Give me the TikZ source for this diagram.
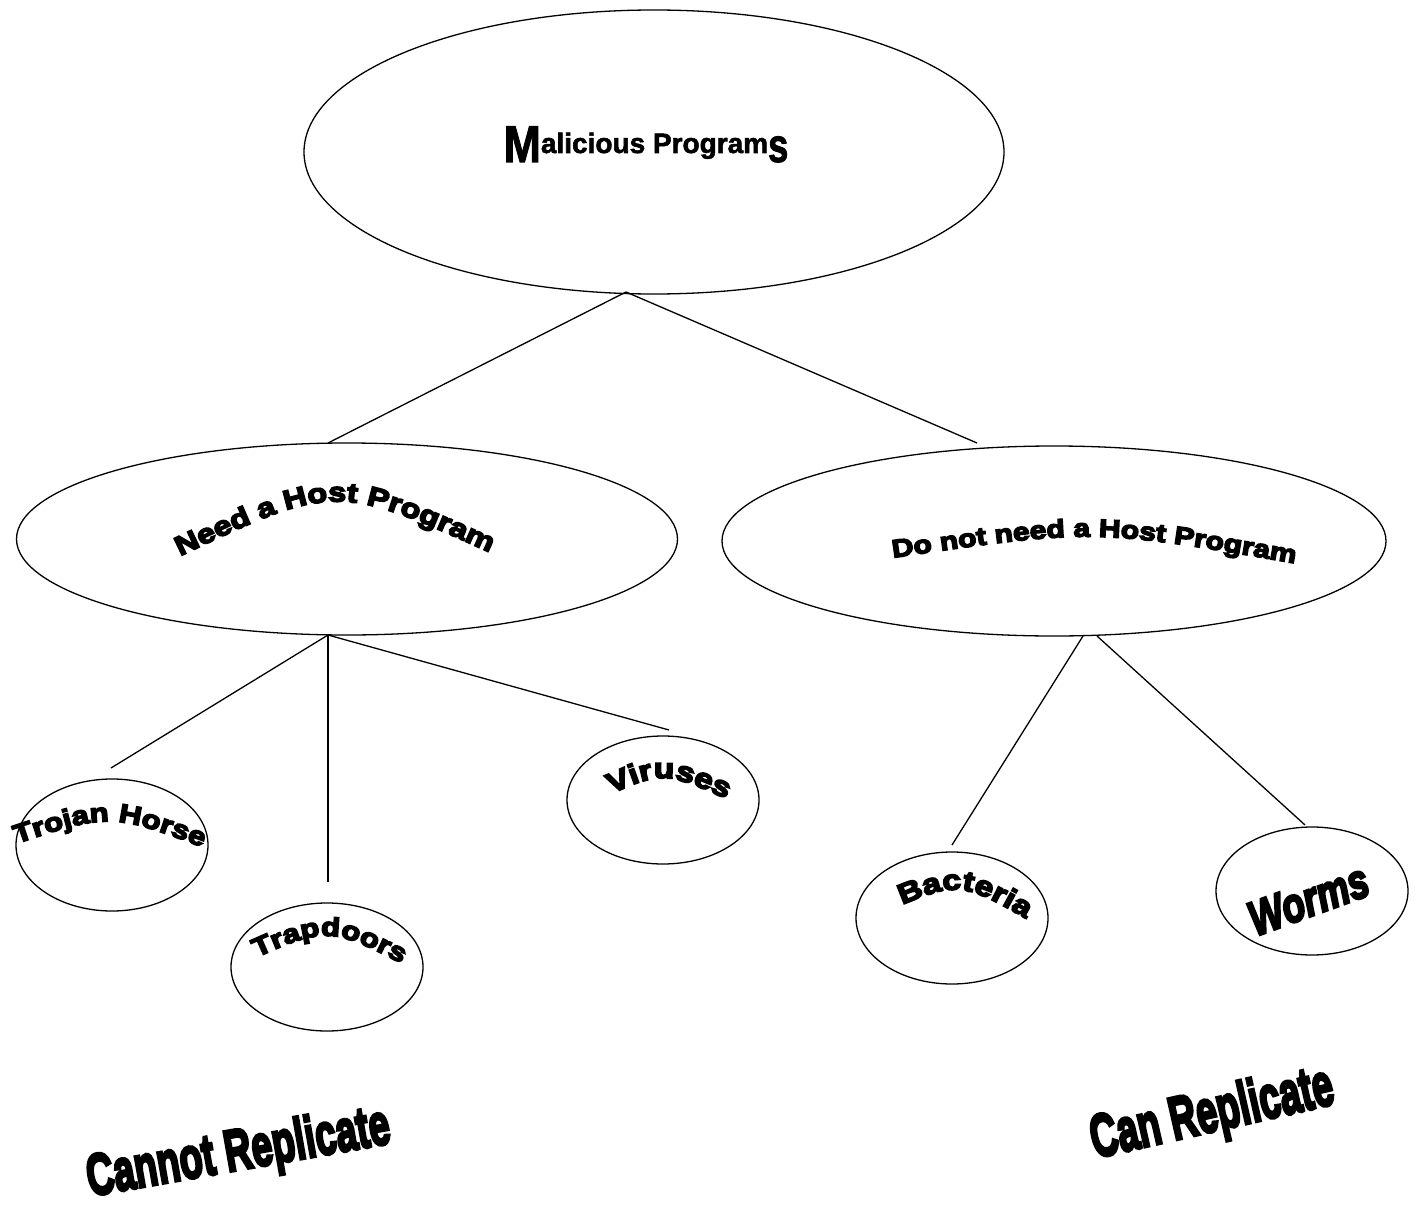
\documentclass[tikz,border=0pt]{standalone}
\usepackage{fontspec}
\setmainfont{Liberation Sans}
\newfontfamily\heavyfont{Liberation Sans}[UprightFont={* Bold}, ItalicFont={* Bold Italic}, FakeBold=6, FakeStretch=1.2]
\newfontfamily\titlefont{Liberation Sans}[UprightFont={* Bold}, FakeBold=2]
\usetikzlibrary{shapes.geometric,decorations.text}
\newcommand\arcNeed{\heavyfont\fontsize{27}{27}\selectfont}
\newcommand\arcDo{\heavyfont\fontsize{25}{25}\selectfont}
\newcommand\arcSmall{\heavyfont\fontsize{26}{26}\selectfont}
\newcommand\arcMid{\heavyfont\fontsize{28}{28}\selectfont}
\tikzset{
  oval/.style={draw, ellipse, line width=1.3pt, inner sep=0pt},
  link/.style={line width=1.3pt},
  arctext/.style={decorate, decoration={text along path, text align=center, text={#1}}},
}
\begin{document}
\begin{tikzpicture}[x=1pt,y=-1pt]
\useasboundingbox (0,0) rectangle (1418,1209);
\fill[white] (0,0) rectangle (1418,1209);

% ellipses
\node[oval, minimum width=700pt, minimum height=284pt] (top) at (654,152) {};
\node[oval, minimum width=661pt, minimum height=192pt] (need) at (347,539) {};
\node[oval, minimum width=664pt, minimum height=190pt] (noneed) at (1054,541) {};
\node[oval, minimum width=192pt, minimum height=132pt] (trojan) at (112,845) {};
\node[oval, minimum width=192pt, minimum height=128pt] (trap) at (327,967) {};
\node[oval, minimum width=192pt, minimum height=128pt] (virus) at (663,800) {};
\node[oval, minimum width=192pt, minimum height=132pt] (bact) at (952,918) {};
\node[oval, minimum width=192pt, minimum height=128pt] (worms) at (1312,891) {};

% connector end points
\coordinate (tb) at (626,292);
\coordinate (nt) at (328,443);
\coordinate (dt) at (977,443);
\coordinate (nb) at (328,635);
\coordinate (trojt) at (111,768);
\coordinate (trapt) at (328,882);
\coordinate (virt) at (669,730);
\coordinate (db1) at (1083,636);
\coordinate (db2) at (1097,636);
\coordinate (bactt) at (952,845);
\coordinate (wormt) at (1305,825);

\draw[link] (nt) -- (tb) -- (dt);
\draw[link] (nb) -- (trojt);
\draw[link] (nb) -- (trapt);
\draw[link] (nb) -- (virt);
\draw[link] (db1) -- (bactt);
\draw[link] (db2) -- (wormt);

% title
\node[anchor=base, inner sep=0pt] (title) at (646,153)
  {\titlefont\fontsize{28}{28}\selectfont\raisebox{-9pt}{\scalebox{1.6}[1.85]{M}}alicious Program\raisebox{-9pt}{\scalebox{1.3}[1.7]{s}}};

% arched labels
\path[arctext={|\arcNeed|Need a Host Program}] (168,562) .. controls (335,482) .. (502,558);
\path[arctext={|\arcDo|Do not need a Host Program}] (878,560) .. controls (1093,528) .. (1310,566);
\path[arctext={|\arcSmall|Trojan Horse}] (4,848) .. controls (110,812) .. (215,852);
\path[arctext={|\arcMid|Viruses}] (598,800) .. controls (663,770) .. (740,805);
\path[arctext={|\arcSmall|Trapdoors}] (240,965) .. controls (328,925) .. (418,972);
\path[arctext={|\arcMid|Bacteria}] (885,912) .. controls (960,880) .. (1042,928);

\node[rotate=20, xscale=0.64, anchor=base, inner sep=0pt] (wormlbl) at (1314,915)
  {\heavyfont\itshape\fontsize{48}{48}\selectfont Worms};

\node[rotate=10, xscale=0.54, anchor=base west, inner sep=0pt] (cannot) at (90,1196)
  {\heavyfont\fontsize{58}{58}\selectfont Cannot Replicate};
\node[rotate=12.8, xscale=0.52, anchor=base west, inner sep=0pt] (can) at (1095,1158)
  {\heavyfont\fontsize{60}{60}\selectfont Can Replicate};
\end{tikzpicture}
\end{document}
